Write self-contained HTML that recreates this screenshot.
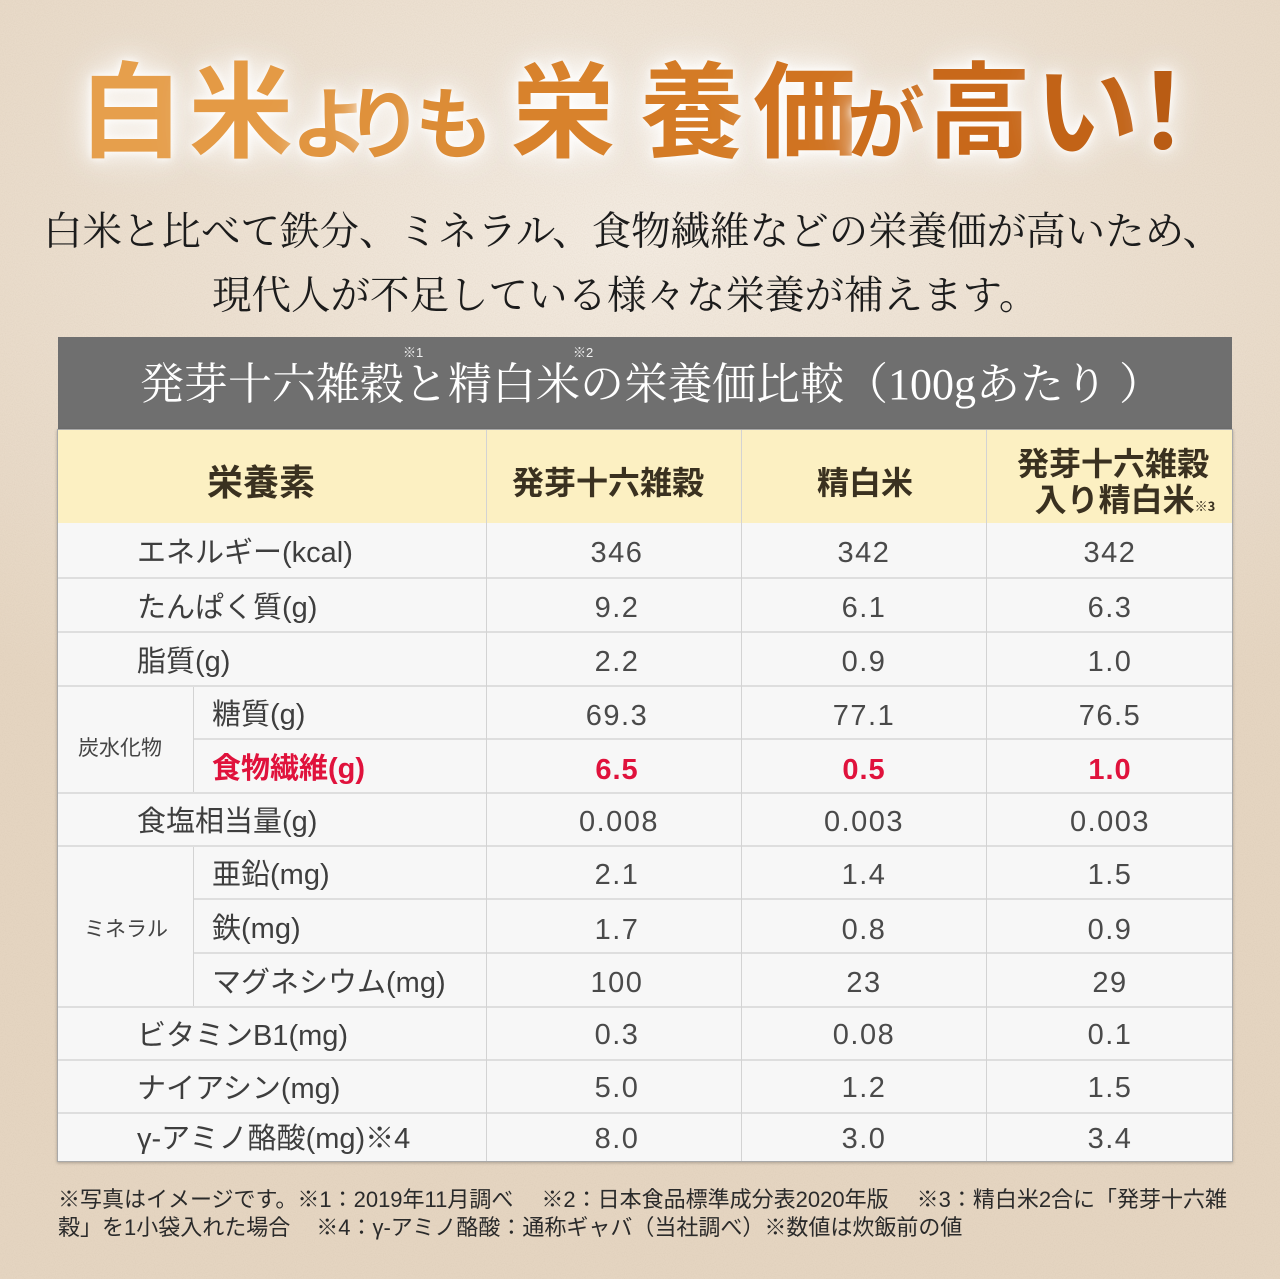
<!DOCTYPE html>
<html lang="ja">
<head>
<meta charset="utf-8">
<style>
html,body{margin:0;padding:0;}
body{width:1280px;height:1279px;position:relative;overflow:hidden;
background:radial-gradient(ellipse 75% 45% at 50% 18%, #f3ebe1 0%, #ece0d1 45%, #e5d5c1 100%);
font-family:"Liberation Sans","Noto Sans CJK JP",sans-serif;}
.noise{position:absolute;left:0;top:0;width:1280px;height:1279px;opacity:0.25;}
.a{position:absolute;white-space:nowrap;}
.t{position:absolute;width:160px;text-align:center;font-family:"Noto Sans CJK JP",sans-serif;font-weight:700;
text-shadow:0 0 8px rgba(255,255,255,0.95),0 0 18px rgba(255,255,255,0.9),0 0 34px rgba(255,255,255,0.75),0 0 50px rgba(255,255,255,0.5);}
.big{font-size:104px;line-height:104px;top:52px;}
.sm{font-size:78px;line-height:78px;top:80px;}
.sub{font-family:"Liberation Serif","Noto Serif CJK SC",serif;font-size:39.5px;line-height:50px;color:#1c1c1c;}
.grey{position:absolute;left:58px;top:337px;width:1174px;height:92px;background:#6f6f6f;}
.gt{position:absolute;left:140px;top:339px;line-height:92px;font-size:44px;color:#fff;font-family:"Liberation Serif","Noto Serif CJK SC",serif;white-space:nowrap;}
.sup{position:absolute;font-size:13px;line-height:13px;color:#f2f2f2;font-family:"Liberation Sans","Noto Sans CJK JP",sans-serif;}
.yel{position:absolute;left:58px;top:429px;width:1174px;height:94px;background:#fcf0c2;}
.body{position:absolute;left:58px;top:523px;width:1174px;height:638px;background:#f7f7f7;}
.frame{position:absolute;left:57px;top:429px;width:1174px;height:731px;border:1px solid #a9a9a9;box-shadow:0 1px 3px rgba(0,0,0,0.25);}
.hl{position:absolute;height:2px;background:#dedede;}
.vl{position:absolute;width:1px;background:#d3d3d3;}
.hd{position:absolute;text-align:center;font-family:"Noto Sans CJK JP",sans-serif;font-weight:700;color:#3a3120;white-space:nowrap;}
.lb{position:absolute;font-family:"Liberation Sans","Noto Sans CJK JP",sans-serif;font-size:29px;color:#3e3e3e;white-space:nowrap;}
.grp{position:absolute;font-family:"Noto Sans CJK JP",sans-serif;font-size:21px;color:#444;white-space:nowrap;}
.v{position:absolute;width:200px;text-align:center;font-family:"Liberation Sans",sans-serif;font-size:29px;color:#4a4a4a;letter-spacing:1.5px;white-space:nowrap;}
.red{color:#e0123c;font-weight:700;letter-spacing:1px;}
.ft{position:absolute;left:58px;font-family:"Liberation Sans","Noto Sans CJK JP",sans-serif;font-size:22px;line-height:26px;color:#2a2a2a;white-space:nowrap;}
.gap{display:inline-block;}
</style>
</head>
<body>
<svg class="noise" width="1280" height="1279" xmlns="http://www.w3.org/2000/svg">
<filter id="n"><feTurbulence type="fractalNoise" baseFrequency="0.9" numOctaves="2" seed="3"/><feColorMatrix type="matrix" values="0 0 0 0 0.55  0 0 0 0 0.45  0 0 0 0 0.35  0 0 0 1.2 -0.45"/></filter>
<rect width="1280" height="1279" filter="url(#n)"/>
</svg>

<!-- Title -->
<div class="t big" style="left:51px;color:#e69f4c;">白</div>
<div class="t big" style="left:161px;color:#e49a45;">米</div>
<div class="t sm" style="left:250px;color:#e19540;">よ</div>
<div class="t sm" style="left:304px;color:#df913b;">り</div>
<div class="t sm" style="left:374px;color:#dc8c36;">も</div>
<div class="t big" style="left:483px;color:#d8822c;">栄</div>
<div class="t big" style="left:612px;color:#d47b26;">養</div>
<div class="t big" style="left:725px;color:#d07321;">価</div>
<div class="t sm" style="left:806px;color:#cc6e1d;">が</div>
<div class="t big" style="left:899px;color:#c8681a;">高</div>
<div class="t big" style="left:1007px;color:#c26317;">い</div>
<div class="t big" style="left:1083px;color:#b95c14;">！</div>

<!-- Subtitle -->
<div class="a sub" style="left:43px;top:207px;">白米と比べて鉄分、ミネラル、食物繊維などの栄養価が高いため、</div>
<div class="a sub" style="left:212px;top:271px;">現代人が不足している様々な栄養が補えます。</div>

<!-- Grey header -->
<div class="grey"></div>
<div class="gt">発芽十六雑穀と精白米の栄養価比較（100gあたり ）</div>
<div class="sup" style="left:403px;top:346px;">※1</div>
<div class="sup" style="left:573px;top:346px;">※2</div>

<!-- Table -->
<div class="yel"></div>
<div class="body"></div>

<!-- horizontal lines -->
<div class="hl" style="left:58px;top:577px;width:1174px;"></div>
<div class="hl" style="left:58px;top:631px;width:1174px;"></div>
<div class="hl" style="left:58px;top:685px;width:1174px;"></div>
<div class="hl" style="left:193px;top:738px;width:1039px;"></div>
<div class="hl" style="left:58px;top:792px;width:1174px;"></div>
<div class="hl" style="left:58px;top:845px;width:1174px;"></div>
<div class="hl" style="left:193px;top:898px;width:1039px;"></div>
<div class="hl" style="left:193px;top:952px;width:1039px;"></div>
<div class="hl" style="left:58px;top:1006px;width:1174px;"></div>
<div class="hl" style="left:58px;top:1059px;width:1174px;"></div>
<div class="hl" style="left:58px;top:1112px;width:1174px;"></div>

<!-- vertical lines -->
<div class="vl" style="left:486px;top:429px;height:732px;"></div>
<div class="vl" style="left:741px;top:429px;height:732px;"></div>
<div class="vl" style="left:986px;top:429px;height:732px;"></div>
<div class="vl" style="left:193px;top:687px;height:105px;"></div>
<div class="vl" style="left:193px;top:847px;height:159px;"></div>

<div class="frame"></div>

<!-- header row -->
<div class="hd" style="left:161px;width:200px;top:455px;font-size:36px;line-height:50px;">栄養素</div>
<div class="hd" style="left:508px;width:200px;top:458px;font-size:32px;line-height:46px;">発芽十六雑穀</div>
<div class="hd" style="left:765px;width:200px;top:458px;font-size:32px;line-height:46px;">精白米</div>
<div class="hd" style="left:1013px;width:200px;top:442px;font-size:32px;line-height:40px;">発芽十六雑穀</div>
<div class="hd" style="left:1025px;width:200px;top:478px;font-size:32px;line-height:40px;">入り精白米<span style="font-size:13px;">※3</span></div>

<!-- labels -->
<div class="lb" style="left:137px;top:526px;line-height:55px;">エネルギー(kcal)</div>
<div class="lb" style="left:137px;top:581px;line-height:54px;">たんぱく質(g)</div>
<div class="lb" style="left:137px;top:635px;line-height:54px;">脂質(g)</div>
<div class="lb" style="left:212px;top:689px;line-height:53px;">糖質(g)</div>
<div class="lb" style="left:212px;top:742px;line-height:54px;color:#e0123c;font-weight:700;">食物繊維(g)</div>
<div class="lb" style="left:137px;top:796px;line-height:53px;">食塩相当量(g)</div>
<div class="lb" style="left:212px;top:849px;line-height:53px;">亜鉛(mg)</div>
<div class="lb" style="left:212px;top:902px;line-height:54px;">鉄(mg)</div>
<div class="lb" style="left:212px;top:956px;line-height:54px;">マグネシウム(mg)</div>
<div class="lb" style="left:137px;top:1010px;line-height:53px;">ビタミンB1(mg)</div>
<div class="lb" style="left:137px;top:1063px;line-height:53px;">ナイアシン(mg)</div>
<div class="lb" style="left:137px;top:1115px;line-height:48px;">γ-アミノ酪酸(mg)※4</div>

<div class="grp" style="left:78px;top:732px;line-height:30px;">炭水化物</div>
<div class="grp" style="left:84px;top:913px;line-height:30px;">ミネラル</div>

<!-- values -->
<div class="v" style="left:517px;top:526px;line-height:55px;">346</div>
<div class="v" style="left:764px;top:526px;line-height:55px;">342</div>
<div class="v" style="left:1010px;top:526px;line-height:55px;">342</div>

<div class="v" style="left:517px;top:581px;line-height:54px;">9.2</div>
<div class="v" style="left:764px;top:581px;line-height:54px;">6.1</div>
<div class="v" style="left:1010px;top:581px;line-height:54px;">6.3</div>

<div class="v" style="left:517px;top:635px;line-height:54px;">2.2</div>
<div class="v" style="left:764px;top:635px;line-height:54px;">0.9</div>
<div class="v" style="left:1010px;top:635px;line-height:54px;">1.0</div>

<div class="v" style="left:517px;top:690px;line-height:53px;">69.3</div>
<div class="v" style="left:764px;top:690px;line-height:53px;">77.1</div>
<div class="v" style="left:1010px;top:690px;line-height:53px;">76.5</div>

<div class="v red" style="left:517px;top:743px;line-height:54px;">6.5</div>
<div class="v red" style="left:764px;top:743px;line-height:54px;">0.5</div>
<div class="v red" style="left:1010px;top:743px;line-height:54px;">1.0</div>

<div class="v" style="left:519px;top:796px;line-height:53px;">0.008</div>
<div class="v" style="left:764px;top:796px;line-height:53px;">0.003</div>
<div class="v" style="left:1010px;top:796px;line-height:53px;">0.003</div>

<div class="v" style="left:517px;top:849px;line-height:53px;">2.1</div>
<div class="v" style="left:764px;top:849px;line-height:53px;">1.4</div>
<div class="v" style="left:1010px;top:849px;line-height:53px;">1.5</div>

<div class="v" style="left:517px;top:903px;line-height:54px;">1.7</div>
<div class="v" style="left:764px;top:903px;line-height:54px;">0.8</div>
<div class="v" style="left:1010px;top:903px;line-height:54px;">0.9</div>

<div class="v" style="left:517px;top:956px;line-height:54px;">100</div>
<div class="v" style="left:764px;top:956px;line-height:54px;">23</div>
<div class="v" style="left:1010px;top:956px;line-height:54px;">29</div>

<div class="v" style="left:517px;top:1009px;line-height:53px;">0.3</div>
<div class="v" style="left:764px;top:1009px;line-height:53px;">0.08</div>
<div class="v" style="left:1010px;top:1009px;line-height:53px;">0.1</div>

<div class="v" style="left:517px;top:1062px;line-height:53px;">5.0</div>
<div class="v" style="left:764px;top:1062px;line-height:53px;">1.2</div>
<div class="v" style="left:1010px;top:1062px;line-height:53px;">1.5</div>

<div class="v" style="left:517px;top:1114px;line-height:50px;">8.0</div>
<div class="v" style="left:764px;top:1114px;line-height:50px;">3.0</div>
<div class="v" style="left:1010px;top:1114px;line-height:50px;">3.4</div>

<!-- footer -->
<div class="ft" style="top:1187px;">※写真はイメージです。※1：2019年11月調べ<span class="gap" style="width:28px;"></span>※2：日本食品標準成分表2020年版<span class="gap" style="width:28px;"></span>※3：精白米2合に「発芽十六雑</div>
<div class="ft" style="top:1215px;">穀」を1小袋入れた場合<span class="gap" style="width:26px;"></span>※4：γ-アミノ酪酸：通称ギャバ（当社調べ）※数値は炊飯前の値</div>
</body>
</html>
